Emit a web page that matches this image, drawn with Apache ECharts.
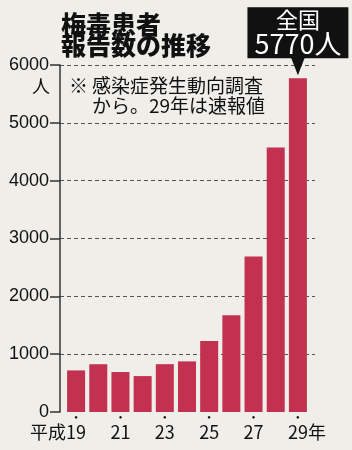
<!DOCTYPE html>
<html lang="ja">
<head>
<meta charset="UTF-8">
<title>梅毒患者報告数の推移</title>
<script src="https://cdn.jsdelivr.net/npm/echarts@6/dist/echarts.min.js"></script>
<style>
  html, body { margin: 0; padding: 0; background: #efeee9; }
  #main { width: 352px; height: 450px; }
</style>
</head>
<body>
<div id="main"></div>
<script>
// 平成19〜29年
const years = ['19', '20', '21', '22', '23', '24', '25', '26', '27', '28', '29'];
const patients = [719, 826, 691, 621, 827, 875, 1228, 1671, 2690, 4575, 5770];
const yTicks = [0, 1000, 2000, 3000, 4000, 5000, 6000];

const chart = echarts.init(document.getElementById('main'));
const font = '"Noto Sans CJK JP", sans-serif';
const last = years.length - 1;

const labelRich = {
  d: { fontSize: 6, lineHeight: 10, color: '#111' },
  dh: { fontSize: 6, lineHeight: 10, color: 'rgba(0,0,0,0)' },
  t: { fontFamily: font, fontSize: 18, lineHeight: 20, color: '#111' },
  h: { fontFamily: font, fontSize: 18, lineHeight: 20, color: 'rgba(0,0,0,0)' }
};

const option = {
  backgroundColor: '#efeee9',
  animation: false,
  title: {
    text: '梅毒患者\n報告数の推移',
    left: 61,
    top: 14,
    padding: 0,
    textStyle: { fontFamily: font, fontSize: 25, fontWeight: 900, lineHeight: 21, color: '#111' }
  },
  graphic: [
    { type: 'text', left: 69, top: 76, style: { text: '※', font: '19px ' + font, fill: '#111' } },
    { type: 'text', left: 92, top: 76, style: { text: '感染症発生動向調査', font: '19px ' + font, fill: '#111' } },
    { type: 'text', left: 92, top: 96, style: { text: 'から。29年は速報値', font: '19px ' + font, fill: '#111' } }
  ],
  grid: [
    { left: 65, right: 43, top: 65, bottom: 38 },
    { left: 60, right: 37, top: 65, bottom: 38 }
  ],
  xAxis: [
    {
      // 年の数字と目印の点
      type: 'category', gridIndex: 0, data: years,
      axisLine: { show: false }, axisTick: { show: false },
      axisLabel: {
        interval: 1, margin: 0,
        formatter: function (v) { return '{d|●}\n{t|' + v + '}'; },
        rich: labelRich
      }
    },
    {
      // 「平成」「年」の添え字
      type: 'category', gridIndex: 0, data: years, position: 'bottom',
      axisLine: { show: false }, axisTick: { show: false },
      axisLabel: {
        margin: 0,
        interval: function (i) { return i === 0 || i === last; },
        formatter: function (v, i) {
          if (i === 0) return '{dh|●}\n{t|平成}{h|' + v + '平成}';
          return '{dh|●}\n{h|年' + v + '}{t|年}';
        },
        rich: labelRich
      }
    },
    { type: 'value', gridIndex: 1, show: false, min: 0, max: 1 }
  ],
  yAxis: [
    { type: 'value', gridIndex: 0, min: 0, max: 6000, interval: 1000, show: false },
    {
      type: 'value', gridIndex: 1, min: yTicks[0], max: yTicks[yTicks.length - 1], interval: 1000,
      name: '人', nameLocation: 'end', nameGap: -21,
      nameTextStyle: { fontFamily: font, fontSize: 18, color: '#111', align: 'right', verticalAlign: 'middle', padding: [0, 10, 0, 0] },
      axisLine: { show: true, lineStyle: { color: '#333', width: 1.5 } },
      axisTick: { show: true, length: 10, lineStyle: { color: '#333', width: 1.5 } },
      axisLabel: {
        margin: 11, fontFamily: 'Liberation Sans, sans-serif', fontSize: 18, color: '#111',
        formatter: function (v) { return String(v); }
      },
      splitLine: { show: true, lineStyle: { type: [4, 3], width: 1, color: ['rgba(0,0,0,0)', '#555', '#555', '#555', '#555', '#555', '#555'] } }
    }
  ],
  series: [
    {
      type: 'bar', xAxisIndex: 0, yAxisIndex: 0,
      data: patients.map(function (v, i) {
        if (i !== last) return v;
        return {
          value: v,
          label: {
            show: true, position: 'top', distance: 20,
            backgroundColor: '#111', padding: [1, 7, 1, 7],
            formatter: function (p) { return '{a|全国}\n{b|' + p.value + '人}'; },
            rich: {
              a: { fontFamily: font, fontSize: 22, lineHeight: 22, color: '#fff', align: 'center' },
              b: { fontFamily: font, fontSize: 27, lineHeight: 27, color: '#fff', align: 'center' }
            }
          }
        };
      }),
      barWidth: 18,
      itemStyle: { color: '#c2314f' },
      markPoint: {
        silent: true,
        symbol: 'triangle', symbolRotate: 180, symbolSize: [14, 18], symbolOffset: [0, -12],
        itemStyle: { color: '#111' },
        label: { show: false },
        data: [{ coord: [years[last], patients[last]] }]
      }
    }
  ]
};
chart.setOption(option);
</script>
</body>
</html>
